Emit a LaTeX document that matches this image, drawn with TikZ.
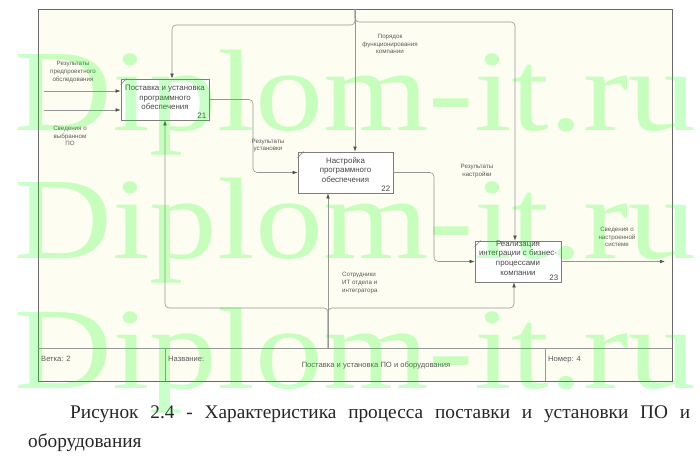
\documentclass[tikz,border=0pt]{standalone}
\usepackage{fontspec}
\setmainfont{Liberation Serif}
\newfontfamily\diagfont{Liberation Sans}
\usetikzlibrary{arrows.meta}
\definecolor{framefill}{RGB}{253,254,241}
\definecolor{linegray}{RGB}{150,150,150}
\definecolor{boxgray}{RGB}{125,125,125}
\definecolor{txtgray}{RGB}{90,90,90}
\definecolor{tipgray}{RGB}{80,80,80}
\definecolor{framegray}{RGB}{105,105,105}
\definecolor{wm}{RGB}{0,255,0}
\begin{document}
\begin{tikzpicture}[x=1pt,y=-1pt,
  procbox/.style={draw=boxgray, fill=white, line width=0.7pt, inner sep=0pt},
  proctext/.style={font=\diagfont\fontsize{7.9}{9.6}\selectfont, text=black!72, align=center, inner sep=0pt},
  procnum/.style={font=\diagfont\fontsize{7.9}{9.6}\selectfont, text=black!72, anchor=south east, inner sep=0pt},
  lbl/.style={font=\diagfont\fontsize{6.2}{7.8}\selectfont, text=txtgray, align=center, inner sep=0pt},
  conn/.style={draw=linegray, line width=0.6pt, rounded corners=4pt, -{Latex[length=5pt,width=3.6pt,color=tipgray]}},
  tb/.style={font=\diagfont\fontsize{7.6}{8.5}\selectfont, text=txtgray, inner sep=0pt},
  wmark/.style={anchor=base west, inner sep=0pt, text=wm, text opacity=0.21, font=\fontsize{116}{116}\selectfont},
  captxt/.style={anchor=base west, inner sep=0pt, text=black!85, font=\fontsize{19.3}{22}\selectfont}
]
\useasboundingbox (0,0) rectangle (700,460);
\fill[white] (0,0) rectangle (700,460);
% frame and title block
\draw[framegray, fill=framefill, line width=0.7pt] (38,9) rectangle (672,381);
\draw[boxgray!80, line width=0.6pt] (38,348) -- (672,348) (165,348) -- (165,381) (545,348) -- (545,381);

% activity boxes
\node[procbox, minimum width=88pt, minimum height=41pt] (b21) at (165,99.5) {};
\node[procbox, minimum width=95pt, minimum height=41pt] (b22) at (345.5,172.5) {};
\node[procbox, minimum width=86pt, minimum height=41pt] (b23) at (518,261.5) {};
\foreach \b in {b21,b22,b23}
  \draw[boxgray, line width=0.5pt] ([yshift=-6pt]\b.north west) -- ([xshift=6pt]\b.north west);

\node[proctext] (t21) at (165,97.5) {Поставка и установка\\программного\\обеспечения};
\node[procnum] (n21) at ([xshift=-3pt,yshift=2pt]b21.south east) {21};
\node[proctext] (t22) at (345.5,170) {Настройка\\программного\\обеспечения};
\node[procnum] (n22) at ([xshift=-3pt,yshift=2pt]b22.south east) {22};
\node[proctext] (t23) at (518,258) {Реализация\\интеграции с бизнес-\\процессами\\компании};
\node[procnum] (n23) at ([xshift=-3pt,yshift=2pt]b23.south east) {23};

% inputs / outputs
\coordinate (i1) at (44,91);
\coordinate (i2) at (44,110);
\draw[conn] (i1) -- (i1 -| b21.west);
\draw[conn] (i2) -- (i2 -| b21.west);
\draw[conn] (b21.east) -- (253,99.5) |- (b22.west);
\draw[conn] (b22.east) -- (434,172.5) |- (b23.west);
\coordinate (o3) at (665,261.5);
\draw[conn] (b23.east) -- (o3);

% controls
\coordinate (ctop) at (355,9);
\coordinate (cl) at (172,25);
\coordinate (cr) at (515,22);
\draw[conn] (ctop) -- (ctop |- b22.north);
\draw[conn] (ctop) |- (cl) -- (cl |- b21.north);
\draw[conn] (ctop) |- (cr) -- (cr |- b23.north);

% mechanisms
\coordinate (mbot) at (328,348);
\coordinate (ml) at (165,308);
\coordinate (mr) at (514,308);
\draw[conn] (mbot) -- (mbot |- b22.south);
\draw[conn] (mbot) |- (ml) -- (ml |- b21.south);
\draw[conn] (mbot) |- (mr) -- (mr |- b23.south);

% arrow labels
\node[lbl] (l1) at (73,72) {Результаты\\предпроектного\\обследования};
\node[lbl] (l2) at (70,136) {Сведения о\\выбранном\\ПО};
\node[lbl] (l3) at (268,145.5) {Результаты\\установки};
\node[lbl] (l4) at (477,171) {Результаты\\настройки};
\node[lbl] (l5) at (617,237) {Сведения о\\настроенной\\системе};
\node[lbl] (l6) at (390,44) {Порядок\\функционирования\\компании};
\node[lbl, align=left, anchor=west] (l7) at (342,283) {Сотрудники\\ИТ отдела и\\интегратора};

% title block texts
\node[tb, anchor=base west] (tb1) at (41,361) {Ветка: 2};
\node[tb, anchor=base west] (tb2) at (168,361) {Название:};
\node[tb, anchor=base] (tb3) at (376,367) {Поставка и установка ПО и оборудования};
\node[tb, anchor=base west] (tb4) at (548,361) {Номер: 4};

% caption
\node[captxt] (cap1) at (70,418) {\makebox[620pt][s]{Рисунок 2.4 - Характеристика процесса поставки и установки ПО и}};
\node[captxt] (cap2) at (28,447) {оборудования};

% watermark
\node[wmark] (wm1) at (14,130) {\scalebox{1.17}[1]{Diplom-it.ru}};
\node[wmark] (wm2) at (14,258) {\scalebox{1.17}[1]{Diplom-it.ru}};
\node[wmark] (wm3) at (14,388) {\scalebox{1.17}[1]{Diplom-it.ru}};
\end{tikzpicture}
\end{document}
